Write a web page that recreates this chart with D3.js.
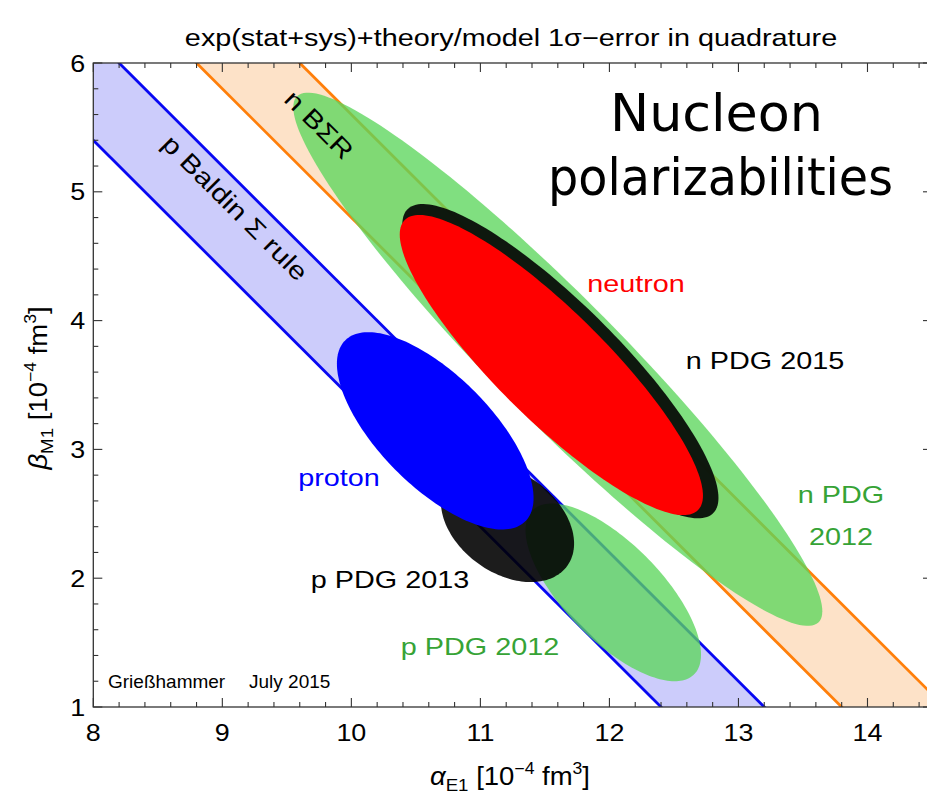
<!DOCTYPE html>
<html>
<head>
<meta charset="utf-8">
<script src="https://cdn.jsdelivr.net/npm/d3@7"></script>
<style>
  html, body { margin: 0; padding: 0; background: #ffffff; }
  svg { display: block; }
  text { font-family: "Liberation Sans", Arial, sans-serif; }
</style>
</head>
<body>
<svg id="chart" width="927" height="806"></svg>
<script>
// Sum rule bands: alpha + beta constrained between a low and a high value
const bandNames = ["p Baldin Σ rule", "n BΣR"];
const bandSumLow = [13.4, 14.8];
const bandSumHigh = [14.2, 15.6];

// 1-sigma error ellipses in the (alpha_E1, beta_M1) plane
const ellipseNames = ["n PDG 2012", "n PDG 2015", "neutron", "p PDG 2012", "p PDG 2013", "proton"];
const alphaCenter = [11.60, 11.62, 11.55, 12.03, 11.21, 10.65];
const alphaSigma  = [2.05, 1.225, 1.175, 0.68, 0.516, 0.762];
const betaCenter  = [3.70, 3.685, 3.655, 1.89, 2.43, 3.144];
const betaSigma   = [2.07, 1.22, 1.165, 0.69, 0.46, 0.766];
const correlation = [-0.945, -0.87, -0.87, -0.70, -0.35, -0.68];

// Axis ticks
const xTickValues = [8, 9, 10, 11, 12, 13, 14];
const yTickValues = [1, 2, 3, 4, 5, 6];

const bandStyle = [
  { fill: "#ccccfb", stroke: "#0808f2" },
  { fill: "#fde2c8", stroke: "#ff7f0a" }
];
const ellipseStyle = [
  { fill: "#5cd65c", opacity: 0.78 },
  { fill: "#0a120a", opacity: 0.97 },
  { fill: "#ff0000", opacity: 1 },
  { fill: "#5cd65c", opacity: 0.78 },
  { fill: "#000000", opacity: 0.89 },
  { fill: "#0000ff", opacity: 1 }
];

const svg = d3.select("#chart");
const plotLeft = 93.3, plotRight = 932, plotTop = 63, plotBottom = 707;

const x = d3.scaleLinear().domain([8, 14.5]).range([plotLeft, plotRight]);
const y = d3.scaleLinear().domain([1, 6]).range([plotBottom, plotTop]);

svg.append("defs").append("clipPath").attr("id", "plotClip")
  .append("rect").attr("x", plotLeft).attr("y", plotTop)
  .attr("width", plotRight - plotLeft).attr("height", plotBottom - plotTop);

const plot = svg.append("g").attr("clip-path", "url(#plotClip)");

// Bands
const line = d3.line().x(d => x(d[0])).y(d => y(d[1]));
bandNames.forEach((name, i) => {
  const lo = bandSumLow[i], hi = bandSumHigh[i];
  const poly = [[lo - 7, 7], [lo, 0], [hi, 0], [hi - 7, 7]];
  plot.append("path").attr("d", line(poly) + "Z")
    .attr("fill", bandStyle[i].fill).attr("stroke", "none");
  [lo, hi].forEach(s => {
    plot.append("path").attr("d", line([[s - 7, 7], [s, 0]]))
      .attr("fill", "none").attr("stroke", bandStyle[i].stroke)
      .attr("stroke-width", 2.8);
  });
});

// Ellipses
function ellipsePoints(i) {
  const r = correlation[i], q = Math.sqrt(1 - r * r);
  return d3.range(0, 360, 2).map(deg => {
    const t = deg * Math.PI / 180;
    return [
      alphaCenter[i] + alphaSigma[i] * Math.cos(t),
      betaCenter[i] + betaSigma[i] * (r * Math.cos(t) + q * Math.sin(t))
    ];
  });
}
const closedLine = d3.line().x(d => x(d[0])).y(d => y(d[1])).curve(d3.curveLinearClosed);
ellipseNames.forEach((name, i) => {
  plot.append("path").attr("d", closedLine(ellipsePoints(i)))
    .attr("fill", ellipseStyle[i].fill)
    .attr("fill-opacity", ellipseStyle[i].opacity)
    .attr("stroke", "none");
});

// Frame and inward ticks
const frame = svg.append("g");
frame.append("rect").attr("x", plotLeft).attr("y", plotTop)
  .attr("width", plotRight - plotLeft).attr("height", plotBottom - plotTop)
  .attr("fill", "none").attr("stroke", "#333").attr("stroke-width", 1.3);

const xMinor = d3.range(8, 14.5001, 0.2);
const yMinor = d3.range(1, 6.0001, 0.2);
function isMajor(v) { return Math.abs(v - Math.round(v)) < 1e-6; }
xMinor.forEach(v => {
  const L = isMajor(v) ? 9 : 5;
  frame.append("line").attr("x1", x(v)).attr("x2", x(v)).attr("y1", plotBottom).attr("y2", plotBottom - L)
    .attr("stroke", "#333").attr("stroke-width", 1.1);
  frame.append("line").attr("x1", x(v)).attr("x2", x(v)).attr("y1", plotTop).attr("y2", plotTop + L)
    .attr("stroke", "#333").attr("stroke-width", 1.1);
});
yMinor.forEach(v => {
  const L = isMajor(v) ? 9 : 5;
  frame.append("line").attr("x1", plotLeft).attr("x2", plotLeft + L).attr("y1", y(v)).attr("y2", y(v))
    .attr("stroke", "#333").attr("stroke-width", 1.1);
  frame.append("line").attr("x1", plotRight).attr("x2", plotRight - L).attr("y1", y(v)).attr("y2", y(v))
    .attr("stroke", "#333").attr("stroke-width", 1.1);
});

// Text helper: position, rotation and horizontal stretch
function label(txt, px, py, o) {
  o = o || {};
  const t = svg.append("text")
    .attr("transform", `translate(${px},${py}) rotate(${o.rot || 0}) scale(${o.sx || 1},1)`)
    .attr("text-anchor", o.anchor || "middle")
    .attr("font-size", o.size || 24)
    .attr("fill", o.color || "#000")
    .text(txt);
  if (o.family) t.style("font-family", o.family);
  if (o.weight) t.attr("font-weight", o.weight);
  if (o.length) t.attr("textLength", o.length).attr("lengthAdjust", "spacingAndGlyphs");
  return t;
}

// Tick labels
xTickValues.forEach(v => label(String(v), x(v), 741, { size: 24, sx: 1.12 }));
yTickValues.forEach(v => label(String(v), plotLeft - 8, y(v) + 8.5, { size: 24, sx: 1.12, anchor: "end" }));

// Title
label("exp(stat+sys)+theory/model 1σ−error in quadrature", 511, 46, { size: 24, sx: 1.2 });

// Axis titles
const xt = svg.append("text").attr("x", 510).attr("y", 785).attr("text-anchor", "middle")
  .attr("font-size", 25).attr("transform", "translate(510,0) scale(1.1,1) translate(-510,0)");
xt.append("tspan").attr("font-style", "italic").text("α");
xt.append("tspan").attr("font-size", 17).attr("dy", 6).text("E1");
xt.append("tspan").attr("dy", -6).text(" [10");
xt.append("tspan").attr("font-size", 16).attr("dy", -11).text("−4");
xt.append("tspan").attr("dy", 11).text(" fm");
xt.append("tspan").attr("font-size", 16).attr("dy", -11).text("3");
xt.append("tspan").attr("dy", 11).text("]");

const yt = svg.append("text").attr("text-anchor", "middle").attr("font-size", 25)
  .attr("transform", "translate(47,388) rotate(-90) scale(1.1,1)");
yt.append("tspan").attr("font-style", "italic").text("β");
yt.append("tspan").attr("font-size", 17).attr("dy", 6).text("M1");
yt.append("tspan").attr("dy", -6).text(" [10");
yt.append("tspan").attr("font-size", 16).attr("dy", -11).text("−4");
yt.append("tspan").attr("dy", 11).text(" fm");
yt.append("tspan").attr("font-size", 16).attr("dy", -11).text("3");
yt.append("tspan").attr("dy", 11).text("]");

// Band labels along the bands
label(bandNames[1], 313, 131, { size: 25, sx: 1.2, rot: 45 });
label(bandNames[0], 229, 214, { size: 25, sx: 1.2, rot: 45 });

// Ellipse labels
label("neutron", 636, 292, { size: 24, sx: 1.2, color: "#ff0000" });
label("n PDG 2015", 765, 369, { size: 24, sx: 1.2 });
label("proton", 339, 486, { size: 24, sx: 1.2, color: "#0000ff" });
label("p PDG 2013", 390, 588, { size: 24, sx: 1.2 });
label("p PDG 2012", 480, 655, { size: 24, sx: 1.2, color: "#36a336" });
label("n PDG", 841, 503, { size: 24, sx: 1.2, color: "#36a336" });
label("2012", 841, 545, { size: 24, sx: 1.2, color: "#36a336" });

// Big heading
label("Nucleon", 716.5, 131, { size: 52, family: "'DejaVu Sans', sans-serif", weight: 400, length: 213 });
label("polarizabilities", 720.5, 195, { size: 52, family: "'DejaVu Sans', sans-serif", weight: 400, length: 345 });

// Author and date
label("Grießhammer", 108, 688, { size: 19, anchor: "start" });
label("July 2015", 249, 688, { size: 19, anchor: "start" });
</script>
</body>
</html>
